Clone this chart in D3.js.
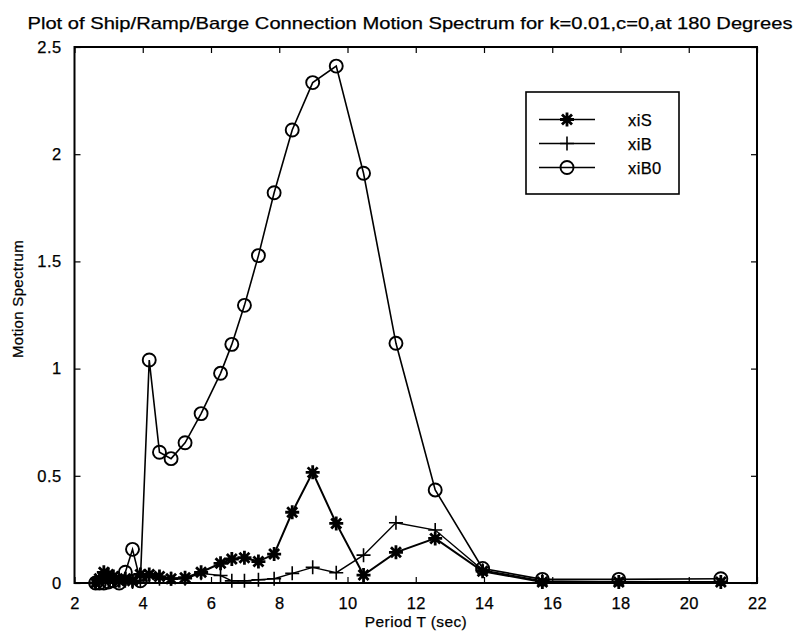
<!DOCTYPE html>
<html><head><meta charset="utf-8">
<script src="https://cdn.jsdelivr.net/npm/d3@7"></script>
<style>body{margin:0;background:#fff}svg{display:block}text{font-family:"Liberation Sans",Arial,Helvetica,sans-serif;fill:#000;stroke:#000;stroke-width:0.25px}</style>
</head><body><svg id="c" width="800" height="635"></svg>
<script>
const periods = [20.94,17.95,15.71,13.96,12.57,11.42,10.47,9.67,8.98,8.38,7.85,7.39,6.98,6.61,6.28,5.71,5.24,4.83,4.49,4.19,3.93,3.70,3.49,3.31,3.14,2.99,2.86,2.73,2.62];
const xiS  = [0.005,0.005,0.005,0.055,0.208,0.143,0.037,0.278,0.516,0.33,0.135,0.10,0.118,0.112,0.092,0.05,0.025,0.02,0.03,0.04,0.04,0.01,0.02,0.01,0.03,0.04,0.05,0.02,0.0];
const xiB  = [0.005,0.005,0.01,0.06,0.247,0.281,0.13,0.048,0.073,0.045,0.02,0.015,0.01,0.01,0.035,0.045,0.02,0.02,0.02,0.03,0.01,0.005,0.01,0.02,0.02,0.01,0.02,0.01,0.0];
const xiB0 = [0.02,0.017,0.017,0.068,0.434,1.118,1.911,2.411,2.334,2.113,1.82,1.527,1.295,1.113,0.978,0.79,0.654,0.58,0.61,1.04,0.01,0.157,0.05,0.0,0.01,0.005,0.0,0.0,0.0];
const seriesNames = ["xiS","xiB","xiB0"];
const xTicks = [2,4,6,8,10,12,14,16,18,20,22];
const yTicks = [0,0.5,1,1.5,2,2.5];
const titleText = "Plot of Ship/Ramp/Barge Connection Motion Spectrum for k=0.01,c=0,at 180 Degrees";
const xLabel = "Period T (sec)";
const yLabel = "Motion Spectrum";

const L=74.5,R=757,T=47,B=583;
const svg=d3.select("#c");
const x=d3.scaleLinear().domain([2,22]).range([L,R]);
const y=d3.scaleLinear().domain([0,2.5]).range([B,T]);

const tl=6;
const gx=svg.append("g").attr("transform",`translate(0,${B})`).call(d3.axisBottom(x).tickValues(xTicks).tickSizeInner(-tl).tickSizeOuter(0).tickPadding(tl+8).tickFormat(d3.format("d")));
const gxt=svg.append("g").attr("transform",`translate(0,${T})`).call(d3.axisTop(x).tickValues(xTicks).tickSizeInner(-tl).tickSizeOuter(0).tickFormat(""));
const gy=svg.append("g").attr("transform",`translate(${L},0)`).call(d3.axisLeft(y).tickValues(yTicks).tickSizeInner(-tl).tickSizeOuter(0).tickPadding(tl+7).tickFormat(d=>String(d)));
const gyr=svg.append("g").attr("transform",`translate(${R},0)`).call(d3.axisRight(y).tickValues(yTicks).tickSizeInner(-tl).tickSizeOuter(0).tickFormat(""));
[gx,gxt,gy,gyr].forEach(g=>{g.select(".domain").remove();g.selectAll("line").attr("stroke","#000").attr("stroke-width",1.2);g.selectAll("text").style("font-size","16.5px").style("letter-spacing","0.4px").attr("fill","#000");});
svg.append("rect").attr("x",L).attr("y",T).attr("width",R-L).attr("height",B-T).attr("fill","none").attr("stroke","#000").attr("stroke-width",2);

function drawMarker(g,type,cx,cy){
  if(type==="circle"){
    g.append("circle").attr("cx",cx).attr("cy",cy).attr("r",6.5).attr("fill","none").attr("stroke","#000").attr("stroke-width",1.9);
  } else if(type==="plus"){
    const s=7;
    g.append("path").attr("d",`M${cx-s},${cy}H${cx+s}M${cx},${cy-s}V${cy+s}`).attr("stroke","#000").attr("stroke-width",1.6).attr("fill","none");
  } else {
    const s=7,d=5;
    g.append("path").attr("d",`M${cx-s},${cy}H${cx+s}M${cx},${cy-s}V${cy+s}M${cx-d},${cy-d}L${cx+d},${cy+d}M${cx-d},${cy+d}L${cx+d},${cy-d}`).attr("stroke","#000").attr("stroke-width",2.8).attr("fill","none");
  }
}
const data=[{name:"xiS",vals:xiS,m:"star",w:2},{name:"xiB",vals:xiB,m:"plus",w:1.4},{name:"xiB0",vals:xiB0,m:"circle",w:1.6}];
const line=d3.line().x(d=>x(d[0])).y(d=>y(d[1]));
data.forEach(s=>{
  const pts=periods.map((p,i)=>[p,s.vals[i]]);
  svg.append("path").datum(pts).attr("d",line).attr("fill","none").attr("stroke","#000").attr("stroke-width",s.w);
  const g=svg.append("g");
  pts.forEach(p=>drawMarker(g,s.m,x(p[0]),y(p[1])));
});

const lg=svg.append("g");
lg.append("rect").attr("x",526).attr("y",92).attr("width",153).attr("height",102).attr("fill","#fff").attr("stroke","#000").attr("stroke-width",1.6);
data.forEach((s,i)=>{
  const yy=119.5+i*24;
  lg.append("line").attr("x1",539).attr("x2",595).attr("y1",yy).attr("y2",yy).attr("stroke","#000").attr("stroke-width",1.5);
  drawMarker(lg,s.m,567,yy);
  lg.append("text").attr("x",628).attr("y",yy+6).style("font-size","16.5px").style("letter-spacing","0.4px").text(seriesNames[i]);
});

svg.append("text").attr("x",410).attr("y",29).attr("text-anchor","middle").style("font-size","16.5px").attr("textLength",765).attr("lengthAdjust","spacingAndGlyphs").text(titleText);
svg.append("text").attr("x",416).attr("y",627).attr("text-anchor","middle").style("font-size","15.5px").style("letter-spacing","0.4px").text(xLabel);
svg.append("text").attr("transform","translate(23,299) rotate(-90)").attr("text-anchor","middle").style("font-size","15px").style("letter-spacing","0.3px").text(yLabel);
</script></body></html>
